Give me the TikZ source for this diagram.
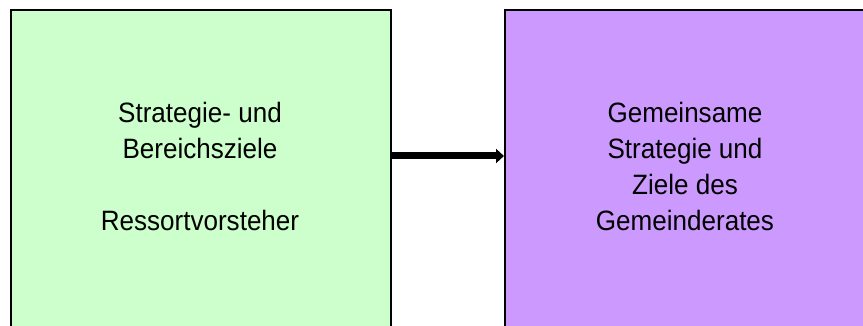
\documentclass[tikz,border=0pt]{standalone}
\usepackage{fontspec}
\setmainfont[FakeStretch=0.93]{Liberation Sans}
\usetikzlibrary{arrows.meta}
\definecolor{boxgreen}{HTML}{CCFFCC}
\definecolor{boxpurple}{HTML}{CC99FF}
\tikzset{
  panel/.style={draw=black, line width=2pt, inner sep=0pt, anchor=north west},
  label/.style={inner sep=0pt, anchor=north, align=center, font=\fontsize{28}{36}\selectfont},
  flow/.style={line width=7pt, -{Triangle[length=8pt,width=14pt]}}
}
\begin{document}
\begin{tikzpicture}[x=1pt,y=-1pt]
\useasboundingbox (0,0) rectangle (863,326);
\clip (0,0) rectangle (863,326);
\node[panel, fill=boxgreen, minimum width=380pt, minimum height=340pt] (L) at (10,9.3) {};
\node[panel, fill=boxpurple, minimum width=362pt, minimum height=340pt] (R) at (504,9.3) {};
\node[label] (Lt) at (200,101.8) {Strategie- und\\Bereichsziele\\[36pt]Ressortvorsteher};
\node[label] (Rt) at (685,101.8) {Gemeinsame\\Strategie und\\Ziele des\\Gemeinderates};
\coordinate (a1) at (L.east |- 0,156);
\coordinate (a2) at (R.west |- 0,156);
\draw[flow] (a1) -- (a2);
\end{tikzpicture}
\end{document}
